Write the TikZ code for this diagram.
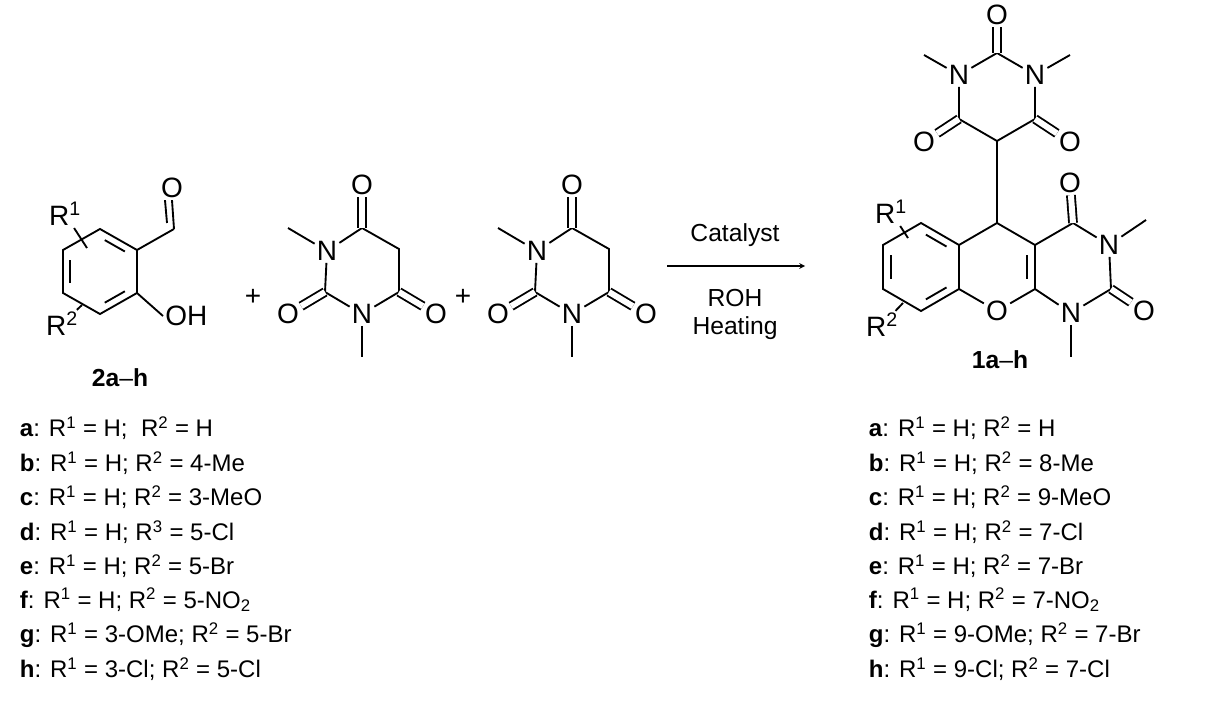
\documentclass[tikz,border=0pt]{standalone}
\usepackage{fontspec}
\setmainfont{Liberation Sans}
\usetikzlibrary{calc}
\begin{document}
\begin{tikzpicture}[x=0.75pt,y=-0.75pt,line width=1.4pt,
  atom/.style={inner sep=1pt,font=\fontsize{21}{23}\selectfont},
  txt/.style={inner sep=0pt,anchor=west,font=\fontsize{18}{20}\selectfont},
  lbl/.style={inner sep=0pt,font=\fontsize{18.5}{20}\selectfont},
  dbl/.style={double,double distance=4.5pt,line width=1.4pt}]
\useasboundingbox (0,0) rectangle (1205,712);
\newcommand{\inner}[3]{\draw ($($(#1)!0.16!(#2)$)!0.2!(#3)$) -- ($($(#2)!0.16!(#1)$)!0.2!(#3)$);}
% ---- salicylaldehyde
\coordinate (a1) at (100,229); \coordinate (a2) at (137,250); \coordinate (a3) at (137,293);
\coordinate (a4) at (100,314); \coordinate (a5) at (63,293); \coordinate (a6) at (63,250);
\coordinate (ac) at (100,271);
\draw (a1)--(a2)--(a3)--(a4)--(a5)--(a6)--cycle;
\inner{a1}{a2}{ac}\inner{a3}{a4}{ac}\inner{a5}{a6}{ac}
\coordinate (cho) at (174,229);
\node[atom] (ao) at (172,188) {O};
\node[atom,anchor=west] (oh) at (163,316) {OH};
\draw (a2)--(cho);
\draw (cho)--(ao.south);
\draw ($(cho)+(-7,-6)$)--($(ao.south)+(-7,0)$);
\draw (a3)--(oh.west);
\node[atom] (r1a) at (65,214) {R\textsuperscript{1}};
\node[atom] (r2a) at (62,324) {R\textsuperscript{2}};
\coordinate (r1e) at (87,248); \coordinate (r2e) at (82,305);
\draw (r1a)--(r1e); \draw (r2a)--(r2e);
\node[lbl] (l2) at (120,378) {\textbf{2a}–\textbf{h}};
% ---- barbiturates
\foreach \dx/\n in {0/b,210/c}{
\begin{scope}[shift={(\dx,0)}]
\coordinate (\n1) at (362,228);
\coordinate (\n2) at (399,249);
\coordinate (\n3) at (399,292);
\node[atom] (\n4) at (362,314) {N};
\coordinate (\n5) at (325,292);
\node[atom] (\n6) at (327,251) {N};
\draw (\n6)--(\n1)--(\n2)--(\n3)--(\n4)--(\n5)--(\n6);
\node[atom] (\n o1) at (362,185) {O};
\node[atom] (\n o3) at (436,314) {O};
\node[atom] (\n o5) at (288,314) {O};
\draw[dbl] (\n1)--(\n o1); \draw[dbl] (\n3)--(\n o3); \draw[dbl] (\n5)--(\n o5);
\coordinate (\n m6) at (288,228); \coordinate (\n m4) at (362,357);
\draw (\n6)--(\n m6); \draw (\n4)--(\n m4);
\end{scope}}
\node[atom] (p1) at (253,297) {+};
\node[atom] (p2) at (463,297) {+};
% ---- arrow
\coordinate (ar1) at (667,266); \coordinate (ar2) at (805,266);
\draw[-stealth,line width=0.9pt] (ar1)--(ar2);
\node[lbl] (cat) at (735,235) {Catalyst};
\node[lbl] (roh) at (735,298) {ROH};
\node[lbl] (heat) at (735,328) {Heating};
% ---- product top barbiturate
\coordinate (t1) at (997,53);
\node[atom] (t2) at (1035,75) {N};
\coordinate (t3) at (1035,119);
\coordinate (t4) at (997,141);
\coordinate (t5) at (959,119);
\node[atom] (t6) at (959,75) {N};
\draw (t6)--(t1)--(t2)--(t3)--(t4)--(t5)--(t6);
\node[atom] (to1) at (997,15) {O};
\node[atom] (to3) at (1070,142) {O};
\node[atom] (to5) at (924,142) {O};
\draw[dbl] (t1)--(to1); \draw[dbl] (t3)--(to3); \draw[dbl] (t5)--(to5);
\coordinate (tm2) at (1070,55); \coordinate (tm6) at (924,55);
\draw (t2)--(tm2); \draw (t6)--(tm6);
% ---- pyran
\coordinate (q4) at (997,223);
\coordinate (q4a) at (1035,245);
\coordinate (q10) at (1035,289);
\node[atom] (qo) at (997,311) {O};
\coordinate (q8a) at (959,289);
\coordinate (q4b) at (959,245);
\draw (t4)--(q4);
\draw (q4)--(q4a)--(q10)--(qo)--(q8a)--(q4b)--(q4);
\coordinate (qc) at (997,267);
\draw ($($(q4a)!0.16!(q10)$)!0.2!(qc)$) -- ($($(q10)!0.16!(q4a)$)!0.2!(qc)$);
% benzo
\coordinate (z1) at (921,223); \coordinate (z2) at (883,245); \coordinate (z3) at (883,289);
\coordinate (z4) at (921,311); \coordinate (zc) at (921,267);
\draw (q4b)--(z1)--(z2)--(z3)--(z4)--(q8a);
\inner{z1}{q4b}{zc}\inner{z2}{z3}{zc}\inner{z4}{q8a}{zc}
\node[atom] (r1b) at (891,212) {R\textsuperscript{1}};
\node[atom] (r2b) at (882,325) {R\textsuperscript{2}};
\coordinate (r1f) at (908,238); \coordinate (r2f) at (903,303);
\draw (r1b)--(r1f); \draw (r2b)--(r2f);
% pyrimidine
\coordinate (u4) at (1073,223);
\node[atom] (u3) at (1109,245) {N};
\coordinate (u2) at (1111,289);
\node[atom] (u1) at (1071,313) {N};
\draw (q4a)--(u4)--(u3)--(u2)--(u1)--(q10);
\node[atom] (uo4) at (1070,183) {O};
\node[atom] (uo2) at (1144,311) {O};
\draw[dbl] (u4)--(uo4); \draw[dbl] (u2)--(uo2);
\coordinate (um3) at (1146,220); \coordinate (um1) at (1071,357);
\draw (u3)--(um3); \draw (u1)--(um1);
\node[lbl] (l1) at (1000,360) {\textbf{1a}–\textbf{h}};
% ---- lists
\foreach \y/\t in {428/{\textbf{a}: R\textsuperscript{1} = H;\ \ R\textsuperscript{2} = H},
 463/{\textbf{b}: R\textsuperscript{1} = H; R\textsuperscript{2} = 4-Me},
 497/{\textbf{c}: R\textsuperscript{1} = H; R\textsuperscript{2} = 3-MeO},
 532/{\textbf{d}: R\textsuperscript{1} = H; R\textsuperscript{3} = 5-Cl},
 566/{\textbf{e}: R\textsuperscript{1} = H; R\textsuperscript{2} = 5-Br},
 600/{\textbf{f}: R\textsuperscript{1} = H; R\textsuperscript{2} = 5-NO\textsubscript{2}},
 635/{\textbf{g}: R\textsuperscript{1} = 3-OMe; R\textsuperscript{2} = 5-Br},
 669/{\textbf{h}: R\textsuperscript{1} = 3-Cl; R\textsuperscript{2} = 5-Cl}}
 {\node[txt] at (19,\y) {\t};}
\foreach \y/\t in {428/{\textbf{a}: R\textsuperscript{1} = H; R\textsuperscript{2} = H},
 463/{\textbf{b}: R\textsuperscript{1} = H; R\textsuperscript{2} = 8-Me},
 497/{\textbf{c}: R\textsuperscript{1} = H; R\textsuperscript{2} = 9-MeO},
 532/{\textbf{d}: R\textsuperscript{1} = H; R\textsuperscript{2} = 7-Cl},
 566/{\textbf{e}: R\textsuperscript{1} = H; R\textsuperscript{2} = 7-Br},
 600/{\textbf{f}: R\textsuperscript{1} = H; R\textsuperscript{2} = 7-NO\textsubscript{2}},
 635/{\textbf{g}: R\textsuperscript{1} = 9-OMe; R\textsuperscript{2} = 7-Br},
 669/{\textbf{h}: R\textsuperscript{1} = 9-Cl; R\textsuperscript{2} = 7-Cl}}
 {\node[txt] at (868,\y) {\t};}
\end{tikzpicture}
\end{document}
